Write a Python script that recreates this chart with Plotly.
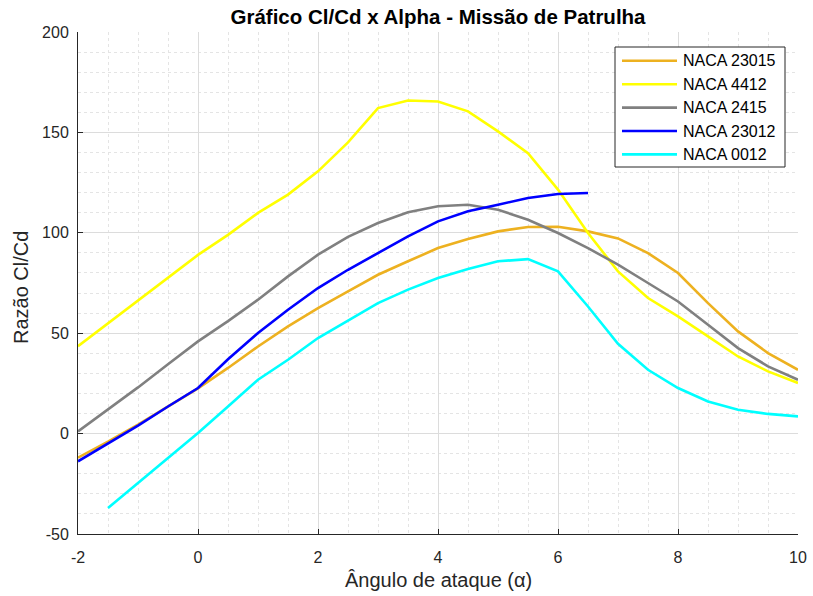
import plotly.graph_objects as go

# Angle of attack (degrees)
alpha = [-2, -1.5, -1, -0.5, 0, 0.5, 1, 1.5, 2, 2.5, 3, 3.5, 4, 4.5, 5, 5.5, 6, 6.5, 7, 7.5, 8, 8.5, 9, 9.5, 10]

# Cl/Cd for each airfoil
naca_23015 = [-12, -4, 4.5, 13.5, 22.5, 32.7, 43.4, 53.4, 62.5, 70.8, 79.1, 85.8, 92.4, 96.9, 100.7,
              102.9, 103.0, 100.7, 97.2, 89.9, 80.0, 65.0, 50.9, 40.1, 31.8]
naca_4412 = [43.5, 54.9, 66.3, 77.6, 89.0, 99.0, 109.9, 119.0, 130.6, 145.0, 162.1, 165.9, 165.4, 160.5,
             150.5, 139.7, 121.5, 99.9, 80.8, 67.5, 58.4, 48.4, 38.4, 31.0, 25.2]
naca_2415 = [1.1, 12.0, 23.0, 34.5, 45.9, 56.0, 66.7, 78.3, 89.1, 98.0, 104.9, 110.2, 113.2, 114.0,
             111.5, 106.5, 99.9, 92.4, 84.1, 75.0, 65.8, 54.2, 42.6, 33.5, 26.8]
alpha_23012 = [-2, -1.5, -1, -0.5, 0, 0.5, 1, 1.5, 2, 2.5, 3, 3.5, 4, 4.5, 5, 5.5, 6, 6.5]
naca_23012 = [-13.8, -5.0, 4.0, 13.5, 22.7, 37.0, 50.1, 61.7, 72.5, 81.6, 90.0, 98.2, 105.7, 110.7,
              114.0, 117.3, 119.3, 119.8]
alpha_0012 = [-1.5, -1, -0.5, 0, 0.5, 1, 1.5, 2, 2.5, 3, 3.5, 4, 4.5, 5, 5.5, 6, 6.5, 7, 7.5, 8, 8.5, 9, 9.5, 10]
naca_0012 = [-37.1, -24.5, -12.0, 0.3, 13.5, 26.8, 36.8, 47.6, 56.3, 65.0, 71.7, 77.5, 82.0, 85.8,
             86.9, 80.8, 63.3, 44.7, 31.8, 22.7, 16.0, 11.9, 9.8, 8.6]

series_names = ["NACA 23015", "NACA 4412", "NACA 2415", "NACA 23012", "NACA 0012"]
series_x = [alpha, alpha, alpha, alpha_23012, alpha_0012]
series_y = [naca_23015, naca_4412, naca_2415, naca_23012, naca_0012]
series_colors = ["#EDB120", "#FFFF00", "#808080", "#0000FF", "#00FFFF"]

# Tick positions and labels (plain hyphen for negatives)
x_tick_vals = [-2, 0, 2, 4, 6, 8, 10]
x_tick_text = ["-2", "0", "2", "4", "6", "8", "10"]
y_tick_vals = [-50, 0, 50, 100, 150, 200]
y_tick_text = ["-50", "0", "50", "100", "150", "200"]

FONT = "Liberation Sans, Arial, sans-serif"
TEXT = "#262626"

# Figure / plot-area geometry in pixels
W, H = 813, 596
L, R, T, B = 78, 15, 32, 62
PW, PH = W - L - R, H - T - B


def px(xpix):
    """Horizontal pixel position -> paper fraction."""
    return (xpix - L) / PW


def py(ypix):
    """Vertical pixel position (from top) -> paper fraction."""
    return (H - B - ypix) / PH


fig = go.Figure()
for name, xs, ys, color in zip(series_names, series_x, series_y, series_colors):
    fig.add_trace(go.Scatter(x=xs, y=ys, mode="lines", name=name,
                             line=dict(color=color, width=2.6), showlegend=False))

axis_common = dict(
    showline=True, linecolor=TEXT, linewidth=1,
    ticks="inside", ticklen=5, tickcolor=TEXT, tickwidth=1,
    showgrid=True, gridcolor="#DCDCDC", gridwidth=1,
    zeroline=False, mirror=False, automargin=False,
    tickfont=dict(family=FONT, size=16, color=TEXT),
)

fig.update_xaxes(
    range=[-2, 10], tickmode="array", tickvals=x_tick_vals, ticktext=x_tick_text,
    ticklabelstandoff=9,
    minor=dict(dtick=0.5, tick0=-2, showgrid=True, gridcolor="#E4E4E4", griddash="dot", ticks=""),
    **axis_common,
)
fig.update_yaxes(
    range=[-50, 200], tickmode="array", tickvals=y_tick_vals, ticktext=y_tick_text,
    ticklabelstandoff=5,
    minor=dict(dtick=10, tick0=0, showgrid=True, gridcolor="#E4E4E4", griddash="dot", ticks=""),
    **axis_common,
)

# Legend box with line samples and labels
leg_left, leg_right, leg_top, leg_bottom = 615, 785, 47, 167
row0, row_step = 60.8, 23.4
shapes = [dict(type="rect", xref="paper", yref="paper",
               x0=px(leg_left), x1=px(leg_right), y0=py(leg_bottom), y1=py(leg_top),
               fillcolor="white", line=dict(color=TEXT, width=1), layer="above")]
annotations = []
for i, (name, color) in enumerate(zip(series_names, series_colors)):
    yr = py(row0 + i * row_step)
    shapes.append(dict(type="line", xref="paper", yref="paper",
                       x0=px(622), x1=px(677), y0=yr, y1=yr,
                       line=dict(color=color, width=2.6), layer="above"))
    annotations.append(dict(text=name, xref="paper", yref="paper", x=px(681), y=yr,
                            xanchor="left", yanchor="middle", showarrow=False,
                            font=dict(family=FONT, size=16, color="#000000")))

# Axis titles
annotations.append(dict(text="Ângulo de ataque (α)", xref="paper", yref="paper",
                        x=px(438), y=py(580), xanchor="center", yanchor="middle",
                        showarrow=False, font=dict(family=FONT, size=20, color=TEXT)))
annotations.append(dict(text="Razão Cl/Cd", xref="paper", yref="paper",
                        x=px(21), y=py(288), xanchor="center", yanchor="middle",
                        textangle=-90, showarrow=False,
                        font=dict(family=FONT, size=20, color=TEXT)))

fig.update_layout(
    width=W, height=H,
    margin=dict(l=L, r=R, t=T, b=B),
    plot_bgcolor="white", paper_bgcolor="white",
    title=dict(text="<b>Gráfico Cl/Cd x Alpha - Missão de Patrulha</b>",
               x=(L + W - R) / 2 / W, xanchor="center",
               y=1 - 17 / H, yanchor="middle", yref="container",
               font=dict(family=FONT, size=20.5, color="#000000")),
    shapes=shapes,
    annotations=annotations,
    showlegend=False,
)

fig.write_html("out.html")
